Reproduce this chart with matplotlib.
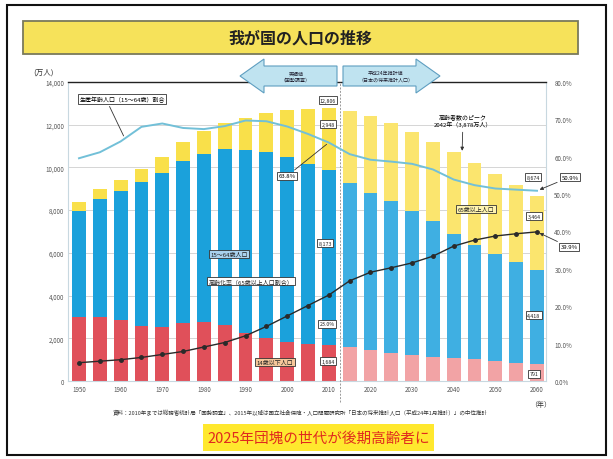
import matplotlib.pyplot as plt
from matplotlib.patches import Rectangle, Polygon

plt.rcParams['font.family'] = ['Noto Sans CJK JP', 'DejaVu Sans']

# データ（万人・%）
years = [1950, 1955, 1960, 1965, 1970, 1975, 1980, 1985, 1990, 1995, 2000, 2005,
         2010, 2015, 2020, 2025, 2030, 2035, 2040, 2045, 2050, 2055, 2060]
under15 = [2979, 3012, 2843, 2553, 2515, 2722, 2751, 2603, 2249, 2001, 1847, 1752,
           1684, 1583, 1457, 1324, 1204, 1129, 1073, 1012, 939, 861, 791]
age15_64 = [4966, 5517, 6047, 6744, 7212, 7581, 7883, 8251, 8590, 8716, 8622, 8409,
            8173, 7682, 7341, 7085, 6773, 6343, 5787, 5353, 5001, 4706, 4418]
over65 = [416, 479, 540, 624, 739, 887, 1065, 1247, 1493, 1828, 2204, 2576,
          2948, 3395, 3612, 3657, 3685, 3741, 3868, 3856, 3768, 3626, 3464]
working_ratio = [59.6, 61.2, 64.1, 68.0, 68.9, 67.7, 67.4, 68.2, 69.7, 69.5, 68.1, 66.1,
                 63.8, 60.7, 59.2, 58.7, 58.1, 56.6, 53.9, 52.4, 51.5, 51.2, 50.9]
aging_ratio = [4.9, 5.3, 5.7, 6.3, 7.1, 7.9, 9.1, 10.3, 12.1, 14.6, 17.4, 20.2,
               23.0, 26.8, 29.1, 30.3, 31.6, 33.4, 36.1, 37.7, 38.8, 39.4, 39.9]
left_ticks = [0, 2000, 4000, 6000, 8000, 10000, 12000, 14000]
left_labels = ['0', '2,000', '4,000', '6,000', '8,000', '10,000', '12,000', '14,000']
right_ticks = [0, 10, 20, 30, 40, 50, 60, 70, 80]
right_labels = ['0.0%', '10.0%', '20.0%', '30.0%', '40.0%', '50.0%', '60.0%', '70.0%', '80.0%']

W, H = 613, 460


def fx(x):
    return x / W


def fy(y):
    return 1 - y / H


fig = plt.figure(figsize=(6.13, 4.6), dpi=100)
fig.patch.set_facecolor('white')

# 外枠
fig.add_artist(Rectangle((fx(7), fy(456)), fx(606) - fx(7), fy(6) - fy(456),
                         transform=fig.transFigure, fill=False, ec='#111', lw=1.5))

# タイトル帯
fig.add_artist(Rectangle((fx(23), fy(55)), fx(578) - fx(23), fy(22) - fy(55),
                         transform=fig.transFigure, fc='#F6E25A', ec='#7a7a5a', lw=1.3))
fig.text(fx(300), fy(38.5), '我が国の人口の推移', ha='center', va='center',
         fontsize=11.5, fontweight='bold', color='#222')

ax = fig.add_axes([fx(68), fy(382), fx(546) - fx(68), fy(83) - fy(382)])
ax2 = ax.twinx()

actual = [y <= 2010 for y in years]
c_red = ['#E0505A' if a else '#F2A3A5' for a in actual]
c_blue = ['#1BA1DB' if a else '#3FAFE2' for a in actual]
c_yel = ['#F9E04A' if a else '#FBE56E' for a in actual]

bottom2 = [u + m for u, m in zip(under15, age15_64)]
ax.bar(years, under15, width=3.3, color=c_red, zorder=2)
ax.bar(years, age15_64, width=3.3, bottom=under15, color=c_blue, zorder=2)
ax.bar(years, over65, width=3.3, bottom=bottom2, color=c_yel, zorder=2)

ax.set_xlim(1947.36, 2062.16)
ax.set_ylim(0, 14000)
ax.set_yticks(left_ticks)
ax.set_yticklabels(left_labels)
ax.set_xticks(list(range(1950, 2061, 10)))
ax.tick_params(length=0, labelsize=4.5, labelcolor='#555', pad=3)
ax.grid(axis='y', color='#cfcfcf', lw=0.6, zorder=0)
ax.set_axisbelow(True)
for s in ['left', 'right', 'bottom']:
    ax.spines[s].set_color('#c8d8e0')
    ax.spines[s].set_linewidth(0.8)
ax.spines['top'].set_color('#222')
ax.spines['top'].set_linewidth(1.0)

ax2.set_ylim(0, 80)
ax2.set_yticks(right_ticks)
ax2.set_yticklabels(right_labels)
ax2.tick_params(length=0, labelsize=4.5, labelcolor='#555', pad=6)
for s in ax2.spines.values():
    s.set_visible(False)

ax2.plot(years, working_ratio, color='#72C0D8', lw=1.4, zorder=4)
ax2.plot(years, aging_ratio, color='#2a2a2a', lw=1.0, marker='o', ms=2.5, zorder=5)

# 実績値と推計値の境界
ax.axvline(2012.6, ymin=-0.07, ymax=1, color='#999', lw=0.7, ls=(0, (2, 1.5)),
           clip_on=False, zorder=3)

# 矢印
def arrow(pts):
    fig.add_artist(Polygon([(fx(x), fy(y)) for x, y in pts], closed=True,
                           transform=fig.transFigure, fc='#BFE3F0', ec='#5E9EC0', lw=0.8))


arrow([(240, 77), (264, 60), (264, 67), (337, 67), (337, 87), (264, 87), (264, 94)])
arrow([(440, 77), (416, 60), (416, 67), (343, 67), (343, 87), (416, 87), (416, 94)])
fig.text(fx(296), fy(77), '実績値\n（国勢調査）', ha='center', va='center',
         fontsize=3.6, color='#223', linespacing=1.3)
fig.text(fx(386), fy(77), '平成24年推計値\n（日本の将来推計人口）', ha='center', va='center',
         fontsize=3.6, color='#223', linespacing=1.3)

fig.text(fx(33), fy(73), '(万人)', ha='left', va='center', fontsize=5.5, color='#333')
fig.text(fx(541), fy(405), '（年）', ha='center', va='center', fontsize=5, color='#333')


def bx(fc='white'):
    return dict(boxstyle='square,pad=0.25', fc=fc, ec='#333', lw=0.6)


line = dict(arrowstyle='-', color='#333', lw=0.6)
head = dict(arrowstyle='-|>', color='#333', lw=0.6, mutation_scale=5)

ax2.annotate('生産年齢人口（15～64歳）割合', xy=(1961, 64.9), xytext=(fx(122), fy(100)),
             textcoords='figure fraction', ha='center', va='center', fontsize=4.3,
             bbox=bx(), arrowprops=dict(line, relpos=(0.33, 0)), zorder=6)
ax.annotate('高齢者数のピーク\n2042年（3,878万人）', xy=(2042, 10650), xytext=(fx(463), fy(121)),
            textcoords='figure fraction', ha='center', va='center', fontsize=4.3,
            arrowprops=head, zorder=6, linespacing=1.2)
ax2.annotate('63.8%', xy=(2010, 63.8), xytext=(fx(287), fy(177)),
             textcoords='figure fraction', ha='center', va='center', fontsize=4.3,
             bbox=bx(), arrowprops=line, zorder=6)
ax2.annotate('50.9%', xy=(2060, 50.9), xytext=(fx(570), fy(178)),
             textcoords='figure fraction', ha='center', va='center', fontsize=4.3,
             bbox=bx(), arrowprops=head, zorder=6, annotation_clip=False)
ax2.annotate('39.9%', xy=(2060, 39.9), xytext=(fx(569), fy(248)),
             textcoords='figure fraction', ha='center', va='center', fontsize=4.3,
             bbox=bx(), arrowprops=head, zorder=6, annotation_clip=False)

labels = [
    ('15～64歳人口', 229, 255, '#A9D2EE'),
    ('高齢化率（65歳以上人口割合）', 251, 282, 'white'),
    ('14歳以下人口', 275, 363, '#F6C79A'),
    ('65歳以上人口', 476, 210, '#FFF4B0'),
]
for t, x, y, fc in labels:
    fig.text(fx(x), fy(y), t, ha='center', va='center', fontsize=4.3, color='#222',
             bbox=bx(fc), zorder=6)

# 数値ラベル（2010年・2060年）
values = [
    ('{:,}'.format(12806), 328, 101),
    ('{:,}'.format(over65[12]), 328, 125),
    ('{:,}'.format(age15_64[12]), 325, 244),
    ('{:.1f}%'.format(aging_ratio[12]), 327, 325),
    ('{:,}'.format(under15[12]), 328, 362),
    ('{:,}'.format(8674), 533, 178),
    ('{:,}'.format(over65[22]), 534, 217),
    ('{:,}'.format(age15_64[22]), 534, 316),
    ('{:,}'.format(under15[22]), 534, 375),
]
for t, x, y in values:
    fig.text(fx(x), fy(y), t, ha='center', va='center', fontsize=3.8, color='#222',
             bbox=bx(), zorder=6)

fig.text(fx(300), fy(413),
         '資料：2010年までは総務省統計局「国勢調査」、2015年以降は国立社会保障・人口問題研究所'
         '「日本の将来推計人口（平成24年1月推計）」の中位推計',
         ha='center', va='center', fontsize=4, color='#333')

fig.add_artist(Rectangle((fx(203), fy(452)), fx(434) - fx(203), fy(425) - fy(452),
                         transform=fig.transFigure, fc='#FFE82E', ec='none'))
fig.text(fx(318.5), fy(438.5), '2025年団塊の世代が後期高齢者に', ha='center', va='center',
         fontsize=10.5, color='#E02A1E')

fig.savefig('out.png', dpi=100)
